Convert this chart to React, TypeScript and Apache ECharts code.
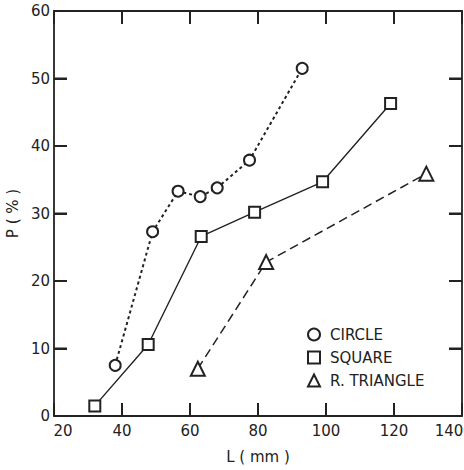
import React, { useEffect, useRef } from "react";
import * as echarts from "echarts";

const seriesNames = ["CIRCLE", "SQUARE", "R. TRIANGLE"];
const circleData: [number, number][] = [
  [38, 7.5], [49, 27.3], [56.5, 33.3], [63, 32.5], [68, 33.8], [77.5, 37.9], [93, 51.5],
];
const squareData: [number, number][] = [
  [32, 1.5], [47.7, 10.6], [63.3, 26.6], [79, 30.2], [99, 34.7], [119, 46.3],
];
const triangleData: [number, number][] = [
  [62.3, 7.0], [82.4, 22.8], [129.5, 35.9],
];
const xTicks = { min: 20, max: 140, interval: 20 };
const yTicks = { min: 0, max: 60, interval: 10 };
const xInnerTicks = [40, 60, 80, 100, 120];
const yInnerTicks = [10, 20, 30, 40, 50];

const INK = "#222222";
const FONT = "DejaVu Sans";

// [x, y, direction] : 0 up, 1 down, 2 right, 3 left
const tickMarks: [number, number, number][] = [
  ...xInnerTicks.map((v) => [v, yTicks.min, 0] as [number, number, number]),
  ...xInnerTicks.map((v) => [v, yTicks.max, 1] as [number, number, number]),
  ...yInnerTicks.map((v) => [xTicks.min, v, 2] as [number, number, number]),
  ...yInnerTicks.map((v) => [xTicks.max, v, 3] as [number, number, number]),
];

export default function App() {
  const ref = useRef<HTMLDivElement>(null);
  useEffect(() => {
    if (!ref.current) return;
    const chart = echarts.init(ref.current, undefined, { renderer: "svg" });
    const tick = () => ({ show: true, inside: true, length: 13, lineStyle: { color: INK, width: 2 } });
    const line = () => ({ show: true, onZero: false, lineStyle: { color: INK, width: 1.8 } });
    const lab = () => ({ color: INK, fontFamily: FONT, fontSize: 15 });
    chart.setOption({
      animation: false,
      grid: {
        left: 54, top: 11, right: 2, bottom: 54,
        outerBoundsMode: "none", containLabel: false,
      },
      legend: {
        orient: "vertical",
        left: 302,
        top: 322,
        itemGap: 8,
        itemWidth: 12,
        itemHeight: 12,
        textStyle: { color: INK, fontFamily: FONT, fontSize: 15, padding: [0, 0, 0, 5] },
        data: [
          { name: seriesNames[0], icon: "emptyCircle" },
          { name: seriesNames[1], icon: "emptyRect" },
          { name: seriesNames[2], icon: "emptyTriangle" },
        ],
      },
      xAxis: [
        {
          type: "value",
          position: "bottom",
          ...xTicks,
          splitLine: { show: false },
          axisLine: line(),
          axisTick: tick(),
          axisLabel: {
            ...lab(),
            margin: 7,
            formatter: (v: number) =>
              v === xTicks.min ? `{l|${v}}` : v === xTicks.max ? `{r|${v}}` : `${v}`,
            rich: {
              l: { ...lab(), padding: [0, 0, 0, 18] },
              r: { ...lab(), padding: [0, 26, 0, 0] },
            },
          },
          name: "L ( mm )",
          nameLocation: "middle",
          nameGap: 33,
          nameTextStyle: lab(),
        },
        {
          type: "value",
          position: "top",
          ...xTicks,
          splitLine: { show: false },
          axisLine: line(),
          axisTick: tick(),
          axisLabel: { show: false },
        },
      ],
      yAxis: [
        {
          type: "value",
          position: "left",
          ...yTicks,
          splitLine: { show: false },
          axisLine: line(),
          axisTick: tick(),
          axisLabel: { ...lab(), margin: 4 },
          name: "P ( % )",
          nameLocation: "middle",
          nameGap: 33,
          nameRotate: 90,
          nameTextStyle: lab(),
        },
        {
          type: "value",
          position: "right",
          ...yTicks,
          splitLine: { show: false },
          axisLine: line(),
          axisTick: tick(),
          axisLabel: { show: false },
        },
      ],
      series: [
        {
          name: seriesNames[0],
          type: "line",
          data: circleData,
          symbol: "emptyCircle",
          symbolSize: 11,
          lineStyle: { color: INK, width: 2, type: [3, 3] },
          itemStyle: { color: INK, borderWidth: 1.5 },
        },
        {
          name: seriesNames[1],
          type: "line",
          data: squareData,
          symbol: "emptyRect",
          symbolSize: 11,
          lineStyle: { color: INK, width: 1.4, type: "solid" },
          itemStyle: { color: INK, borderWidth: 1.5 },
        },
        {
          name: seriesNames[2],
          type: "line",
          data: triangleData,
          symbol: "emptyTriangle",
          symbolSize: 14,
          lineStyle: { color: INK, width: 1.5, type: [9, 5] },
          itemStyle: { color: INK, borderWidth: 1.5 },
        },
        {
          name: "ticks",
          type: "custom",
          silent: true,
          z: 5,
          data: tickMarks,
          encode: { x: 0, y: 1 },
          renderItem: (_params: any, api: any) => {
            const p = api.coord([api.value(0), api.value(1)]);
            const dir = api.value(2);
            const L = 13;
            const dx = dir === 2 ? L : dir === 3 ? -L : 0;
            const dy = dir === 0 ? -L : dir === 1 ? L : 0;
            return {
              type: "line",
              shape: { x1: p[0], y1: p[1], x2: p[0] + dx, y2: p[1] + dy },
              style: { stroke: INK, lineWidth: 2 },
            };
          },
        },
      ],
    });
    return () => chart.dispose();
  }, []);
  return (
    <div
      ref={ref}
      style={{ position: "fixed", left: 0, top: 0, width: 464, height: 470, background: "#fff" }}
    />
  );
}
